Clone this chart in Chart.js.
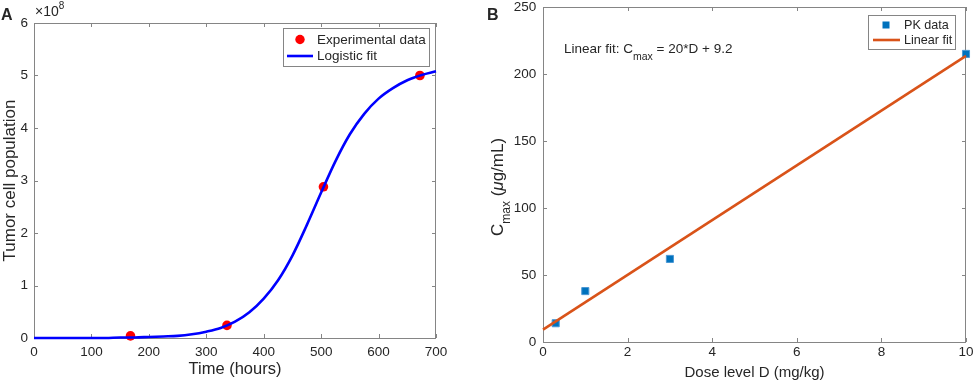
<!DOCTYPE html>
<html><head><meta charset="utf-8">
<script src="https://cdn.jsdelivr.net/npm/chart.js@4.4.0/dist/chart.umd.min.js"></script>
<style>
html,body{margin:0;padding:0;background:#fff;}
#wrap{position:relative;width:974px;height:382px;overflow:hidden;background:#fff;}
.c{position:absolute;top:0;width:487px;height:382px;}
</style></head><body>
<div id="wrap">
<div class="c" style="left:0"><canvas id="cA" width="487" height="382"></canvas></div>
<div class="c" style="left:487px"><canvas id="cB" width="487" height="382"></canvas></div>
</div>
<script>
// ---------- Panel A data (tumor cells, in units of 10^8) ----------
const timeHours = [168, 336, 504, 672];
const tumorCells = [0.04, 0.24, 2.88, 5.00];
const fitTime = [0,25,50,75,100,125,150,175,200,225,250,275,300,325,350,375,400,425,450,475,500,525,550,575,600,625,650,675,700];
const fitCells = [0.00,0.00,0.00,0.00,0.00,0.00,0.01,0.01,0.02,0.03,0.04,0.07,0.12,0.19,0.31,0.49,0.75,1.10,1.57,2.15,2.77,3.37,3.88,4.27,4.56,4.76,4.91,5.01,5.08];
const timeTicks = [0,100,200,300,400,500,600,700];
const cellTicks = [0,1,2,3,4,5,6];
const labelsA = ['Experimental data', 'Logistic fit'];

// ---------- Panel B data ----------
const doseLevels = [0.3, 1, 3, 10];
const cmaxValues = [14, 38, 62, 215];
const fitDose = [0, 10];
const fitCmax = [9.2, 213.5];
const doseTicks = [0,2,4,6,8,10];
const cmaxTicks = [0,50,100,150,200,250];
const labelsB = ['PK data', 'Linear fit'];

const FONT = "'Liberation Sans', Arial, Helvetica, sans-serif";
const TXT = '#262626';
const AX = '#858585';

Chart.defaults.font.family = FONT;
Chart.defaults.color = TXT;

function pts(xs, ys){ return xs.map((x,i)=>({x:x, y:ys[i]})); }

// Matlab-like box with inward ticks on all four sides
const boxPlugin = {
  id: 'mbox',
  beforeDatasetsDraw(chart, args, o) {
    const {ctx, chartArea: a, scales} = chart;
    ctx.save();
    ctx.strokeStyle = AX; ctx.lineWidth = 1;
    ctx.strokeRect(Math.round(a.left)+0.5, Math.round(a.top)+0.5, Math.round(a.right-a.left)-1, Math.round(a.bottom-a.top));
    const L = o.len || 4;
    ctx.beginPath();
    scales.x.ticks.forEach(t => {
      const px = Math.round(scales.x.getPixelForValue(t.value)) + 0.5;
      ctx.moveTo(px, a.bottom); ctx.lineTo(px, a.bottom - L);
      ctx.moveTo(px, a.top); ctx.lineTo(px, a.top + L);
    });
    scales.y.ticks.forEach(t => {
      const py = Math.round(scales.y.getPixelForValue(t.value)) + 0.5;
      ctx.moveTo(a.left, py); ctx.lineTo(a.left + L, py);
      ctx.moveTo(a.right, py); ctx.lineTo(a.right - L, py);
    });
    ctx.stroke();
    ctx.restore();
  }
};

// In-axes legend drawn from the dataset styles
const legendPlugin = {
  id: 'mlegend',
  afterDatasetsDraw(chart, args, o) {
    if (!o || !o.rows) return;
    const {ctx, chartArea: a} = chart;
    ctx.save();
    const x0 = a.right - o.right - o.w, y0 = a.top + o.top;
    ctx.fillStyle = '#fff';
    ctx.fillRect(x0, y0, o.w, o.h);
    ctx.strokeStyle = AX; ctx.lineWidth = 1;
    ctx.strokeRect(Math.round(x0)+0.5, Math.round(y0)+0.5, o.w, o.h);
    ctx.font = o.fontSize + 'px ' + FONT;
    ctx.textBaseline = 'middle';
    ctx.fillStyle = TXT;
    o.rows.forEach((r, i) => {
      const ds = chart.data.datasets[r.ds];
      const cy = y0 + r.dy;
      if (r.kind === 'line') {
        ctx.strokeStyle = ds.borderColor; ctx.lineWidth = ds.borderWidth;
        ctx.beginPath(); ctx.moveTo(x0 + r.lx0, cy); ctx.lineTo(x0 + r.lx1, cy); ctx.stroke();
      } else {
        ctx.fillStyle = ds.pointBackgroundColor;
        if (ds.pointStyle === 'rect') {
          const s = r.size; ctx.fillRect(x0 + r.mx - s/2, cy - s/2, s, s);
        } else {
          ctx.beginPath(); ctx.arc(x0 + r.mx, cy, r.size/2, 0, Math.PI*2); ctx.fill();
        }
      }
      ctx.fillStyle = TXT;
      ctx.fillText(r.text, x0 + r.tx, cy + 0.5);
    });
    ctx.restore();
  }
};

// Free texts (panel letter, exponent, equation, subscripted axis title)
const textPlugin = {
  id: 'mtext',
  afterDraw(chart, args, o) {
    const ctx = chart.ctx;
    (o.items || []).forEach(it => {
      ctx.save();
      ctx.translate(it.x, it.y);
      if (it.rot) ctx.rotate(it.rot);
      ctx.textBaseline = 'alphabetic';
      ctx.fillStyle = TXT;
      let cx = 0;
      it.parts.forEach(p => {
        ctx.font = (p.style || '') + ' ' + (p.weight || 'normal') + ' ' + p.size + 'px ' + FONT;
        ctx.fillText(p.t, cx, p.dy || 0);
        cx += ctx.measureText(p.t).width;
      });
      ctx.restore();
    });
  }
};

function fixTicks(arr) { return s => { s.ticks = arr.map(v => ({value: v})); }; }
const noGrid = { display: false, drawTicks: false, tickLength: 0 };

// ---------------- Chart A ----------------
new Chart(document.getElementById('cA'), {
  type: 'scatter',
  data: {
    datasets: [
      { label: labelsA[0], data: pts(timeHours, tumorCells), showLine: false,
        pointStyle: 'circle', pointRadius: 4.8, pointBackgroundColor: '#ff0000', pointBorderColor: '#ff0000',
        pointBorderWidth: 0, borderColor: '#ff0000', order: 1, clip: false },
      { label: labelsA[1], data: pts(fitTime, fitCells), showLine: true, type: 'line',
        borderColor: '#0000ff', borderWidth: 2.6, pointRadius: 0, cubicInterpolationMode: 'monotone',
        fill: false, order: 0, clip: false }
    ]
  },
  options: {
    responsive: false, animation: false, devicePixelRatio: 1,
    layout: { padding: { top: 23, right: 51, left: 0, bottom: 0 } },
    plugins: {
      legend: { display: false }, tooltip: { enabled: false },
      mbox: { len: 4 },
      mlegend: { right: 7, top: 5, w: 146, h: 38, fontSize: 13.5, rows: [
        { ds: 0, kind: 'point', dy: 11.5, mx: 17, size: 9.4, tx: 34, text: labelsA[0] },
        { ds: 1, kind: 'line', dy: 28, lx0: 4, lx1: 30, tx: 34, text: labelsA[1] }
      ]},
      mtext: { items: [
        { x: 1, y: 20, parts: [{ t: 'A', size: 16, weight: 'bold' }] },
        { x: 35, y: 16, parts: [{ t: '×10', size: 14 }, { t: '8', size: 10, dy: -7 }] }
      ]}
    },
    scales: {
      x: { type: 'linear', min: 0, max: 700, afterBuildTicks: fixTicks(timeTicks),
        afterFit: s => { s.height = 44; s.paddingLeft = 0; s.paddingRight = 0; },
        grid: noGrid, border: { display: false },
        ticks: { padding: 6.6, font: { size: 13.5 }, color: TXT, maxRotation: 0, autoSkip: false },
        title: { display: true, text: 'Time (hours)', font: { size: 16.5 }, color: TXT, padding: { top: 0, bottom: 3 } } },
      y: { type: 'linear', min: 0, max: 6, afterBuildTicks: fixTicks(cellTicks),
        afterFit: s => { s.width = 34; s.paddingTop = 0; s.paddingBottom = 0; },
        grid: noGrid, border: { display: false },
        ticks: { padding: 6, font: { size: 13.5 }, color: TXT, autoSkip: false },
        title: { display: true, text: 'Tumor cell population', font: { size: 17 }, color: TXT, padding: { top: 0, bottom: 0 } } }
    }
  },
  plugins: [boxPlugin, legendPlugin, textPlugin]
});

// ---------------- Chart B ----------------
new Chart(document.getElementById('cB'), {
  type: 'scatter',
  data: {
    datasets: [
      { label: labelsB[0], data: pts(doseLevels, cmaxValues), showLine: false,
        pointStyle: 'rect', pointRadius: 5, pointBackgroundColor: '#0072BD', pointBorderColor: '#4a97d4',
        pointBorderWidth: 1, borderColor: '#0072BD', order: 1, clip: false },
      { label: labelsB[1], data: pts(fitDose, fitCmax), showLine: true, type: 'line',
        borderColor: '#D95319', borderWidth: 2.6, pointRadius: 0, fill: false, order: 0, clip: false }
    ]
  },
  options: {
    responsive: false, animation: false, devicePixelRatio: 1,
    layout: { padding: { top: 7, right: 8, left: 0, bottom: 0 } },
    plugins: {
      legend: { display: false }, tooltip: { enabled: false },
      mbox: { len: 4 },
      mlegend: { right: 11, top: 8, w: 87, h: 34, fontSize: 12.6, rows: [
        { ds: 0, kind: 'point', dy: 10, mx: 18, size: 7, tx: 36, text: labelsB[0] },
        { ds: 1, kind: 'line', dy: 25, lx0: 5, lx1: 32, tx: 36, text: labelsB[1] }
      ]},
      mtext: { items: [
        { x: 0, y: 20, parts: [{ t: 'B', size: 16, weight: 'bold' }] },
        { x: 77, y: 53, parts: [{ t: 'Linear fit: C', size: 13.5 }, { t: 'max', size: 10.5, dy: 6.5 }, { t: ' = 20*D + 9.2', size: 13.5 }] },
        { x: 15.5, y: 236, rot: -Math.PI/2, parts: [{ t: 'C', size: 17 }, { t: 'max', size: 12, dy: 7.5 }, { t: ' (', size: 17 }, { t: 'μ', size: 17, style: 'italic' }, { t: 'g/mL)', size: 17 }] }
      ]}
    },
    scales: {
      x: { type: 'linear', min: 0, max: 10, afterBuildTicks: fixTicks(doseTicks),
        afterFit: s => { s.height = 40; s.paddingLeft = 0; s.paddingRight = 0; },
        grid: noGrid, border: { display: false },
        ticks: { padding: 2.2, font: { size: 13.5 }, color: TXT, maxRotation: 0, autoSkip: false },
        title: { display: true, text: 'Dose level D (mg/kg)', font: { size: 15 }, color: TXT, padding: { top: 0, bottom: 0 } } },
      y: { type: 'linear', min: 0, max: 250, afterBuildTicks: fixTicks(cmaxTicks),
        afterFit: s => { s.width = 56; s.paddingTop = 0; s.paddingBottom = 0; },
        grid: noGrid, border: { display: false },
        ticks: { padding: 6.7, font: { size: 13.5 }, color: TXT, autoSkip: false },
        title: { display: false } }
    }
  },
  plugins: [boxPlugin, legendPlugin, textPlugin]
});
</script>
</body></html>
